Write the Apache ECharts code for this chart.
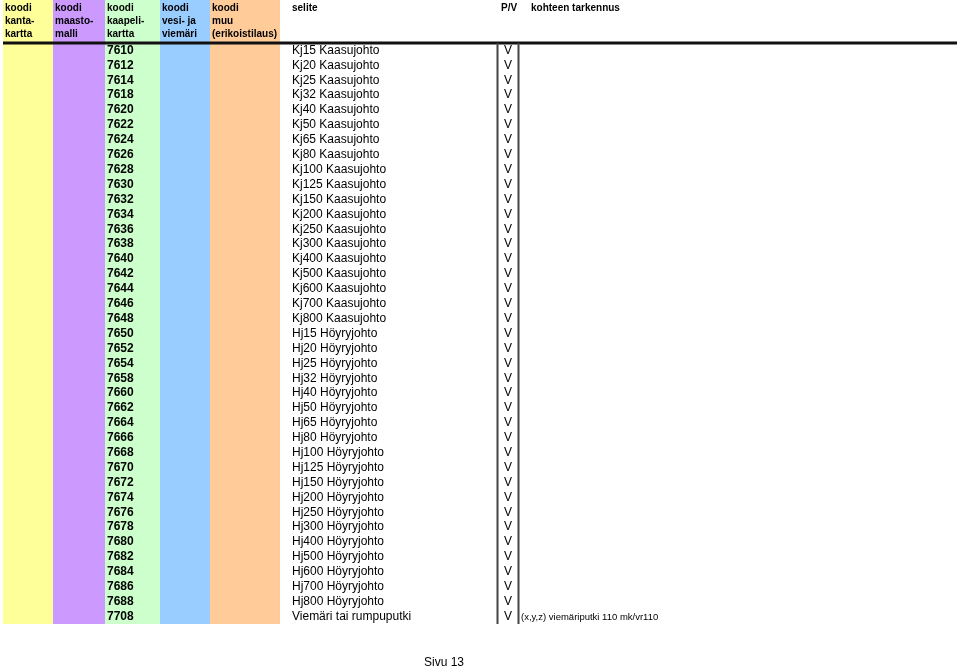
<!DOCTYPE html>
<html>
<head>
<meta charset="utf-8">
<script src="https://cdn.jsdelivr.net/npm/echarts@6/dist/echarts.min.js"></script>
<style>
  html, body { margin: 0; padding: 0; background: #fff; }
  #chart { width: 959px; height: 668px; }
</style>
</head>
<body>
<div id="chart"></div>
<script>
// table rows
var codes = ['7610', '7612', '7614', '7618', '7620', '7622', '7624', '7626', '7628', '7630',
  '7632', '7634', '7636', '7638', '7640', '7642', '7644', '7646', '7648',
  '7650', '7652', '7654', '7658', '7660', '7662', '7664', '7666', '7668', '7670',
  '7672', '7674', '7676', '7678', '7680', '7682', '7684', '7686', '7688', '7708']
var selite = ['Kj15 Kaasujohto', 'Kj20 Kaasujohto', 'Kj25 Kaasujohto', 'Kj32 Kaasujohto',
  'Kj40 Kaasujohto', 'Kj50 Kaasujohto', 'Kj65 Kaasujohto', 'Kj80 Kaasujohto',
  'Kj100 Kaasujohto', 'Kj125 Kaasujohto', 'Kj150 Kaasujohto', 'Kj200 Kaasujohto',
  'Kj250 Kaasujohto', 'Kj300 Kaasujohto', 'Kj400 Kaasujohto', 'Kj500 Kaasujohto',
  'Kj600 Kaasujohto', 'Kj700 Kaasujohto', 'Kj800 Kaasujohto',
  'Hj15 Höyryjohto', 'Hj20 Höyryjohto', 'Hj25 Höyryjohto', 'Hj32 Höyryjohto',
  'Hj40 Höyryjohto', 'Hj50 Höyryjohto', 'Hj65 Höyryjohto', 'Hj80 Höyryjohto',
  'Hj100 Höyryjohto', 'Hj125 Höyryjohto', 'Hj150 Höyryjohto', 'Hj200 Höyryjohto',
  'Hj250 Höyryjohto', 'Hj300 Höyryjohto', 'Hj400 Höyryjohto', 'Hj500 Höyryjohto',
  'Hj600 Höyryjohto', 'Hj700 Höyryjohto', 'Hj800 Höyryjohto',
  'Viemäri tai rumpuputki']
var pv = ['V', 'V', 'V', 'V', 'V', 'V', 'V', 'V', 'V', 'V', 'V', 'V', 'V', 'V', 'V', 'V', 'V', 'V', 'V',
  'V', 'V', 'V', 'V', 'V', 'V', 'V', 'V', 'V', 'V', 'V', 'V', 'V', 'V', 'V', 'V', 'V', 'V', 'V', 'V']
var notes = ['', '', '', '', '', '', '', '', '', '', '', '', '', '', '', '', '', '', '',
  '', '', '', '', '', '', '', '', '', '', '', '', '', '', '', '', '', '', '',
  '(x,y,z) viemäriputki 110 mk/vr110']

// header texts
var headers = [
  ['koodi', 'kanta-', 'kartta'],
  ['koodi', 'maasto-', 'malli'],
  ['koodi', 'kaapeli-', 'kartta'],
  ['koodi', 'vesi- ja', 'viemäri'],
  ['koodi', 'muu', '(erikoistilaus)'],
  ['selite'],
  ['P/V'],
  ['kohteen tarkennus']
]
var footer = 'Sivu 13'

// column layout (x from, x to, fill)
var bands = [
  [3, 53, '#ffff99'],
  [53, 105, '#cc99ff'],
  [105, 160, '#ccffcc'],
  [160, 210, '#99ccff'],
  [210, 280, '#ffcc99']
]
var headerX = [5, 55, 107, 162, 212, 292, 501, 531]
var font = '"Liberation Sans", Arial, sans-serif'

var chart = echarts.init(document.getElementById('chart'))

function bandItem (params, api) {
  var b = bands[params.dataIndex]
  var cs = params.coordSys
  var x0 = api.coord([b[0], 0])[0]
  var x1 = api.coord([b[1], 0])[0]
  return {
    type: 'rect',
    shape: { x: x0, y: 0, width: x1 - x0, height: cs.y + cs.height },
    style: { fill: b[2] }
  }
}

function rowItem (params, api) {
  var i = params.dataIndex
  var y = api.coord([0, i])[1]
  var kids = [
    { type: 'text', x: api.coord([107, i])[0], y: y,
      style: { text: codes[i], font: 'bold 12px ' + font, fill: '#000', textVerticalAlign: 'middle' } },
    { type: 'text', x: api.coord([292, i])[0], y: y,
      style: { text: selite[i], font: '12px ' + font, fill: '#000', textVerticalAlign: 'middle' } },
    { type: 'text', x: api.coord([508, i])[0], y: y,
      style: { text: pv[i], font: '12px ' + font, fill: '#000', textAlign: 'center', textVerticalAlign: 'middle' } }
  ]
  if (notes[i]) {
    kids.push({ type: 'text', x: api.coord([521, i])[0], y: y + 1,
      style: { text: notes[i], font: '9.5px ' + font, fill: '#000', textVerticalAlign: 'middle' } })
  }
  return { type: 'group', children: kids }
}

var headerGraphics = []
headers.forEach(function (lines, c) {
  lines.forEach(function (t, k) {
    headerGraphics.push({
      type: 'text', left: headerX[c], top: 3 + k * 13, z: 20,
      style: { text: t, font: 'bold 10px ' + font, fill: '#000' }
    })
  })
})

var option = {
  animation: false,
  backgroundColor: '#fff',
  grid: { left: 0, right: 0, top: 43, bottom: 44 },
  xAxis: { type: 'value', min: 0, max: 959, show: false },
  yAxis: { type: 'category', data: codes, inverse: true, show: false },
  series: [
    {
      type: 'custom',
      renderItem: bandItem,
      data: bands.map(function (b, i) { return [i] }),
      silent: true,
      z: 1
    },
    {
      type: 'custom',
      renderItem: rowItem,
      data: codes.map(function (c, i) { return [0, i] }),
      silent: true,
      z: 3
    }
  ],
  graphic: headerGraphics.concat([
    { type: 'line', shape: { x1: 3, y1: 43, x2: 957, y2: 43 },
      style: { stroke: '#111', lineWidth: 3 }, z: 20 },
    { type: 'line', shape: { x1: 497.5, y1: 43, x2: 497.5, y2: 624 },
      style: { stroke: '#444', lineWidth: 2 }, z: 20 },
    { type: 'line', shape: { x1: 518.5, y1: 43, x2: 518.5, y2: 624 },
      style: { stroke: '#444', lineWidth: 2 }, z: 20 },
    { type: 'text', left: 424, top: 657, z: 20,
      style: { text: footer, font: '12px ' + font, fill: '#000' } }
  ])
}

chart.setOption(option)
</script>
</body>
</html>
